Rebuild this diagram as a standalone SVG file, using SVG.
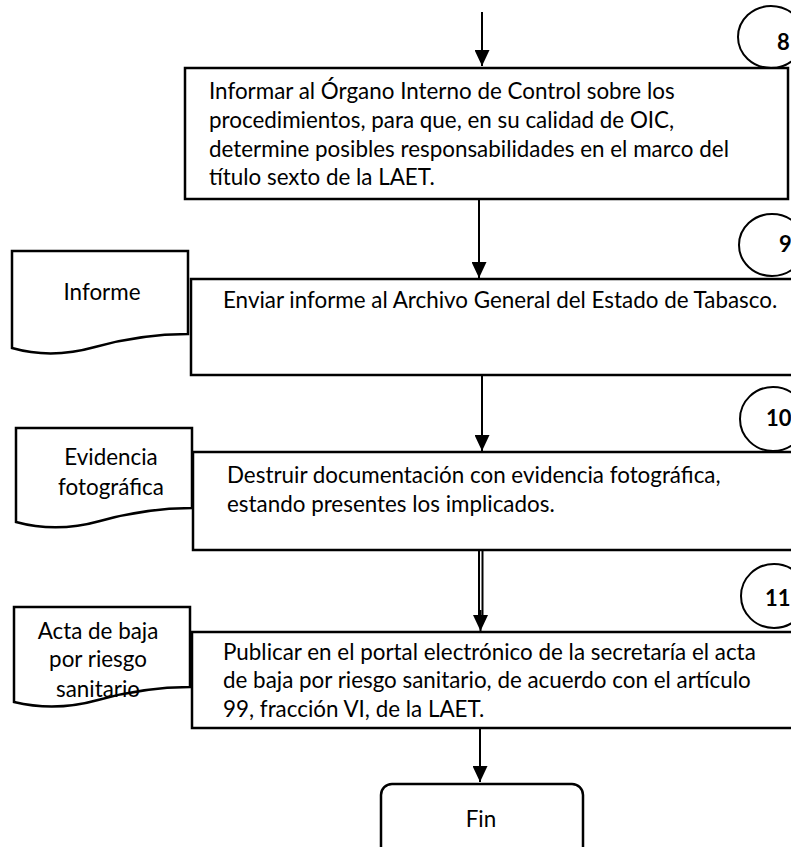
<svg xmlns="http://www.w3.org/2000/svg" width="791" height="847" viewBox="0 0 791 847">
<defs>
<marker id="ah" markerWidth="16" markerHeight="15" refX="16" refY="7.5" orient="auto" markerUnits="userSpaceOnUse" viewBox="0 0 16 15">
<path d="M0,0 L16,7.5 L0,15 Z" fill="#000"/>
</marker>
<style>
.box{fill:#fff;stroke:#000;stroke-width:2.5}
.doc{fill:#fff;stroke:#000;stroke-width:2.5}
.circ{fill:#fff;stroke:#000;stroke-width:2}
.t{font-family:Lato,"Liberation Sans",sans-serif;font-size:22.4px;fill:#000}
.c{text-anchor:middle}
.n{font-family:Lato,"Liberation Sans",sans-serif;font-size:22px;font-weight:bold;fill:#000}
.ln{stroke:#000;stroke-width:2;fill:none}
</style>
</defs>
<rect width="791" height="847" fill="#fff"/>

<g id="circle8"><ellipse class="circ" cx="771" cy="37" rx="33" ry="31"/><text class="n" x="777" y="50">8</text></g>
<g id="circle9"><ellipse class="circ" cx="772" cy="245" rx="33" ry="31"/><text class="n" x="779" y="252">9</text></g>
<g id="circle10"><ellipse class="circ" cx="773" cy="419" rx="33" ry="32"/><text class="n" x="766" y="426">10</text></g>
<g id="circle11"><ellipse class="circ" cx="774" cy="596" rx="33" ry="32"/><text class="n" x="765" y="606">11</text></g>

<g id="step8">
<rect class="box" x="185" y="68" width="603" height="131"/>
<text class="t" x="209" y="99">Informar al Órgano Interno de Control sobre los</text>
<text class="t" x="209" y="128">procedimientos, para que, en su calidad de OIC,</text>
<text class="t" x="209" y="157">determine posibles responsabilidades en el marco del</text>
<text class="t" x="209" y="185">título sexto de la LAET.</text>
</g>

<g id="doc-informe">
<path class="doc" d="M12,251 L188,251 L188,334 C150,334 120,340 95,347 C70,354 40,356 12,348 Z"/>
<text class="t c" x="102" y="300">Informe</text>
</g>
<g id="step9">
<rect class="box" x="191" y="279" width="610" height="96"/>
<text class="t" x="223" y="308">Enviar informe al Archivo General del Estado de Tabasco.</text>
</g>

<g id="doc-evidencia">
<path class="doc" d="M16,428 L192,428 L192,508 C155,508 125,514 100,521 C75,528 45,530 16,522 Z"/>
<text class="t c" x="111" y="465">Evidencia</text>
<text class="t c" x="111" y="495">fotográfica</text>
</g>
<g id="step10">
<rect class="box" x="193" y="452" width="610" height="98"/>
<text class="t" x="227" y="483">Destruir documentación con evidencia fotográfica,</text>
<text class="t" x="227" y="512">estando presentes los implicados.</text>
</g>

<g id="doc-acta">
<path class="doc" d="M14,607 L190,607 L190,687 C153,687 123,693 98,700 C73,707 43,709 14,702 Z"/>
<text class="t c" x="98" y="639">Acta de baja</text>
<text class="t c" x="98" y="667">por riesgo</text>
<text class="t c" x="98" y="697">sanitario</text>
</g>
<g id="step11">
<rect class="box" x="192" y="632" width="610" height="96"/>
<text class="t" x="223" y="660">Publicar en el portal electrónico de la secretaría el acta</text>
<text class="t" x="223" y="688">de baja por riesgo sanitario, de acuerdo con el artículo</text>
<text class="t" x="223" y="717">99, fracción VI, de la LAET.</text>
</g>

<g id="fin">
<rect class="box" x="381" y="784" width="202" height="80" rx="11"/>
<text class="t c" x="481" y="827">Fin</text>
</g>

<g id="connectors">
<line class="ln" x1="482" y1="12" x2="482" y2="66" marker-end="url(#ah)"/>
<line class="ln" x1="479" y1="199" x2="479" y2="278" marker-end="url(#ah)"/>
<line class="ln" x1="482" y1="375" x2="482" y2="451" marker-end="url(#ah)"/>
<line class="ln" x1="479" y1="550" x2="479" y2="620"/>
<line class="ln" x1="482.5" y1="550" x2="482.5" y2="620"/>
<line class="ln" x1="480.5" y1="610" x2="480.5" y2="631" marker-end="url(#ah)"/>
<line class="ln" x1="480" y1="728" x2="480" y2="782" marker-end="url(#ah)"/>
</g>
</svg>
